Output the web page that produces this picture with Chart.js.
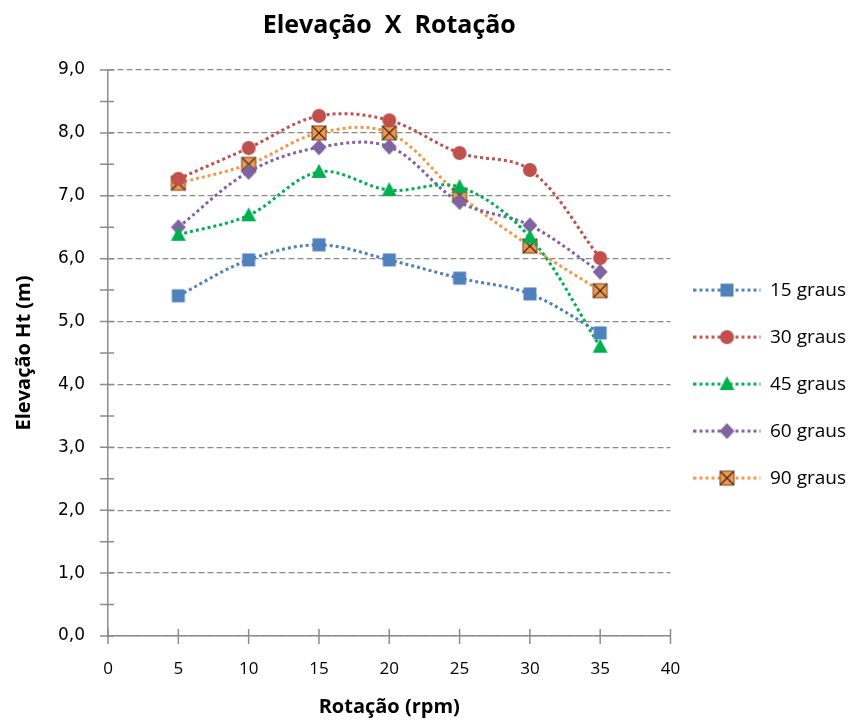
<!DOCTYPE html>
<html>
<head>
<meta charset="utf-8">
<script src="https://cdn.jsdelivr.net/npm/chart.js@4.4.1/dist/chart.umd.min.js"></script>
<style>
  html, body { margin: 0; padding: 0; background: #fff; }
  #wrap { width: 861px; height: 721px; position: relative; }
</style>
</head>
<body>
<div id="wrap"><canvas id="myChart"></canvas></div>
<script>
// data
const rotacao = [5, 10, 15, 20, 25, 30, 35];
const graus15 = [5.41, 5.98, 6.22, 5.98, 5.69, 5.44, 4.82];
const graus30 = [7.27, 7.76, 8.27, 8.20, 7.68, 7.41, 6.01];
const graus45 = [6.38, 6.69, 7.38, 7.09, 7.14, 6.34, 4.60];
const graus60 = [6.50, 7.38, 7.77, 7.78, 6.90, 6.53, 5.79];
const graus90 = [7.20, 7.50, 8.00, 8.00, 7.01, 6.20, 5.49];
const seriesNames = ["15 graus", "30 graus", "45 graus", "60 graus", "90 graus"];

const colors = ["#4F81BD", "#C0504D", "#00B050", "#8064A2", "#F79646"];
const shapes = ["rect", "circle", "triangle", "diamond", "xbox"];
const GRID = "#8a8a8a";
const AXIS = "#8c8c8c";

// draws one marker on a plain 2d context
function drawMarker(g, shape, x, y, color) {
  g.save();
  g.setLineDash([]);
  g.fillStyle = color;
  g.strokeStyle = color;
  g.lineWidth = 1;
  g.beginPath();
  if (shape === "rect") {
    g.rect(x - 6.5, y - 6.5, 13, 13);
  } else if (shape === "circle") {
    g.arc(x, y, 7, 0, Math.PI * 2);
  } else if (shape === "triangle") {
    g.moveTo(x, y - 8);
    g.lineTo(x + 7.5, y + 6);
    g.lineTo(x - 7.5, y + 6);
    g.closePath();
  } else if (shape === "diamond") {
    g.moveTo(x, y - 8);
    g.lineTo(x + 7.5, y);
    g.lineTo(x, y + 8);
    g.lineTo(x - 7.5, y);
    g.closePath();
  } else {
    g.rect(x - 7, y - 7, 14, 14);
  }
  g.fill();
  if (shape === "xbox") {
    g.strokeStyle = "#2b2b2b";
    g.lineWidth = 1.2;
    g.beginPath();
    g.moveTo(x - 7, y - 7); g.lineTo(x + 7, y + 7);
    g.moveTo(x + 7, y - 7); g.lineTo(x - 7, y + 7);
    g.stroke();
    g.strokeStyle = "#6b4a2a";
    g.lineWidth = 1;
    g.strokeRect(x - 7, y - 7, 14, 14);
  }
  g.restore();
}

function markerCanvas(shape, color) {
  const c = document.createElement("canvas");
  c.width = 18;
  c.height = 18;
  drawMarker(c.getContext("2d"), shape, 9, 9, color);
  return c;
}

// legend sample: dotted line with the marker in the middle
// (canvas a bit wider than the legend box so the sample starts further left)
function legendIcon(shape, color) {
  const c = document.createElement("canvas");
  c.width = 72;
  c.height = 18;
  const g = c.getContext("2d");
  g.strokeStyle = color;
  g.lineWidth = 3;
  g.setLineDash([3, 3]);
  g.beginPath();
  g.moveTo(0, 9);
  g.lineTo(67, 9);
  g.stroke();
  drawMarker(g, shape, 33.5, 9, color);
  return c;
}

// ticks that cross the axis lines, like the spreadsheet chart
const crossTicks = {
  id: "crossTicks",
  beforeDatasetsDraw(chart) {
    const { ctx, scales: { x, y } } = chart;
    ctx.save();
    ctx.strokeStyle = AXIS;
    ctx.lineWidth = 1.5;
    ctx.beginPath();
    y.ticks.forEach((t) => {
      const py = y.getPixelForValue(t.value);
      ctx.moveTo(x.left - 8, py);
      ctx.lineTo(x.left + 6, py);
    });
    x.ticks.forEach((t) => {
      const px = x.getPixelForValue(t.value);
      ctx.moveTo(px, y.bottom - 7);
      ctx.lineTo(px, y.bottom + 8);
    });
    ctx.stroke();
    ctx.restore();
  },
};

const allSeries = [graus15, graus30, graus45, graus60, graus90];

const datasets = allSeries.map((vals, i) => ({
  label: seriesNames[i],
  data: rotacao.map((r, k) => ({ x: r, y: vals[k] })),
  borderColor: colors[i],
  backgroundColor: colors[i],
  borderWidth: 3,
  borderDash: [3, 3],
  tension: 0.35,
  pointStyle: markerCanvas(shapes[i], colors[i]),
  pointRadius: 7,
  legendIcon: legendIcon(shapes[i], colors[i]),
}));

const fmt = (v) => v.toFixed(1).replace(".", ",");

const ctx = document.getElementById("myChart");
const myChart = new Chart(ctx, {
  type: "line",
  data: { datasets: datasets },
  plugins: [crossTicks],
  options: {
    responsive: true,
    maintainAspectRatio: false,
    animation: false,
    layout: { padding: { top: 6, right: 5, bottom: 2, left: 8 } },
    plugins: {
      title: {
        display: true,
        text: "Elevação  X  Rotação",
        fullSize: false,
        color: "#000",
        font: { family: "'Open Sans'", size: 25, weight: "bold" },
        padding: { top: 5, bottom: 29 },
      },
      legend: {
        position: "right",
        title: { display: true, text: " ", padding: { top: 24 }, font: { size: 16 } },
        labels: {
          usePointStyle: true,
          pointStyleWidth: 62,
          padding: 28,
          color: "#000",
          font: { family: "'Open Sans'", size: 19 },
          generateLabels: (chart) =>
            chart.data.datasets.map((ds, i) => ({
              text: ds.label,
              pointStyle: ds.legendIcon,
              fillStyle: ds.backgroundColor,
              strokeStyle: ds.borderColor,
              fontColor: "#000",
              lineWidth: 0,
              hidden: false,
              datasetIndex: i,
            })),
        },
      },
      tooltip: { enabled: false },
    },
    scales: {
      x: {
        type: "linear",
        min: 0,
        max: 40,
        ticks: {
          stepSize: 5,
          color: "#000",
          padding: 17,
          font: { family: "'Open Sans'", size: 17, lineHeight: 1.0 },
        },
        grid: {
          drawOnChartArea: false,
          tickLength: 8,
          tickColor: "rgba(0,0,0,0)",
        },
        border: { color: AXIS, width: 1.5 },
        title: {
          display: true,
          text: "Rotação (rpm)",
          color: "#000",
          font: { family: "'Open Sans'", size: 20, weight: "bold" },
          padding: { top: 0, bottom: 0 },
        },
      },
      y: {
        min: 0,
        max: 9,
        ticks: {
          stepSize: 0.5,
          autoSkip: false,
          color: "#000",
          padding: 15,
          font: { family: "'DejaVu Sans'", size: 17 },
          callback: (v) => (Number.isInteger(v) ? fmt(v) : ""),
        },
        grid: {
          color: (c) => (c.tick && Number.isInteger(c.tick.value) ? GRID : "rgba(0,0,0,0)"),
          lineWidth: 1.3,
          tickLength: 8,
          tickColor: "rgba(0,0,0,0)",
        },
        border: { color: AXIS, width: 1.5, dash: [6, 3] },
        title: {
          display: true,
          text: "Elevação Ht (m)",
          color: "#000",
          font: { family: "'Open Sans'", size: 20, weight: "bold" },
          padding: { top: 4, bottom: 7 },
        },
      },
    },
  },
});
</script>
</body>
</html>
